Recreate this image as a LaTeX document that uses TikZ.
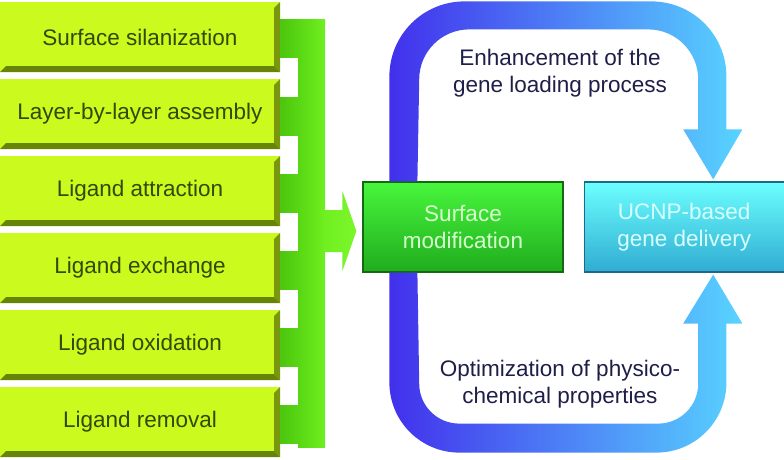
\documentclass[tikz,border=0pt]{standalone}
\usepackage{fontspec}
\setmainfont{Liberation Sans}
\usetikzlibrary{positioning,calc}

\definecolor{boxface}{RGB}{202,250,30}
\definecolor{boxtext}{RGB}{52,72,8}
\definecolor{bevelR}{RGB}{122,150,12}
\definecolor{bevelB}{RGB}{104,132,6}
\definecolor{busL}{RGB}{76,198,14}
\definecolor{busM}{RGB}{88,214,20}
\definecolor{busR}{RGB}{112,240,32}
\definecolor{loopL}{RGB}{66,48,236}
\definecolor{loopR}{RGB}{88,212,255}
\definecolor{notetext}{RGB}{30,30,72}

\tikzset{
  stepbox/.style={fill=boxface, minimum width=280pt, minimum height=70pt,
    inner sep=0pt, text=boxtext, font=\fontsize{22.5}{27}\selectfont},
  modbox/.style={top color={rgb,255:red,72;green,246;blue,60},
    bottom color={rgb,255:red,32;green,172;blue,30},
    draw={rgb,255:red,22;green,105;blue,20}, line width=1.2pt,
    minimum width=200pt, minimum height=90pt, inner sep=0pt, align=center,
    text={rgb,255:red,215;green,255;blue,205}, font=\fontsize{22.5}{27}\selectfont},
  genebox/.style={modbox, top color={rgb,255:red,108;green,255;blue,255},
    bottom color={rgb,255:red,48;green,172;blue,210},
    draw={rgb,255:red,30;green,105;blue,135},
    text={rgb,255:red,215;green,255;blue,255}},
  note/.style={align=center, text=notetext, font=\fontsize{22.5}{27}\selectfont},
  loop/.style={left color=loopL, right color=loopR},
}

\begin{document}
\begin{tikzpicture}[x=1pt,y=-1pt]
\useasboundingbox (0,0) rectangle (784,460);

% the six routes on the left
\foreach \nm/\txt [count=\i from 0] in {sil/Surface silanization,lbl/Layer-by-layer assembly,att/Ligand attraction,exc/Ligand exchange,oxi/Ligand oxidation,rem/Ligand removal}{
  \path (140,{37+77*\i}) node[stepbox] (\nm) {\txt};
  \fill[bevelR] (\nm.north east) -- (\nm.south east) -- ++(-6,-6) -- ($(\nm.north east)+(-6,6)$) -- cycle;
  \fill[bevelB] (\nm.south west) -- (\nm.south east) -- ++(-6,-6) -- ($(\nm.south west)+(6,-6)$) -- cycle;
  \shade[left color=busL,right color=busM] ($(\nm.east)+(0,-17)$) rectangle ++(18,38);
}
\shade[left color=busM,right color=busR] ($(sil.east)+(18,-17)$) rectangle ($(rem.east)+(45,25)$);

\path (463,227) node[modbox] (smod) {Surface\\modification};
\path node[genebox, right=20pt of smod] (ucnp) {UCNP-based\\gene delivery};

% feed arrow
\coordinate (tip) at ($(smod.west)+(-6,4)$);
\shade[left color=busR,right color={rgb,255:red,124;green,246;blue,44}] ($(tip)+(-32,-21)$) -- ++(18,0) -- ++(0,-19) -- (tip) -- ++(-14,40) -- ++(0,-19) -- ++(-18,0) -- cycle;

% upper loop
\shade[loop] ($(smod.north west)+(27,0)$) -- ++(0,-105) arc[start angle=180,end angle=270,radius=75]
  -- ++(187,0) arc[start angle=270,end angle=360,radius=75] -- ++(0,53) -- ++(16,0)
  -- ($(ucnp.north)+(29,-2)$) -- ++(-30,-50) -- ++(15,0) -- ++(0,-50)
  arc[start angle=0,end angle=-90,radius=50] -- ++(-179,0) arc[start angle=270,end angle=180,radius=50]
  -- ($(smod.north west)+(55,0)$) -- cycle;
%lower loop
\shade[loop] ($(smod.south west)+(27,0)$) -- ++(0,110) arc[start angle=180,end angle=90,radius=70]
  -- ++(197,0) arc[start angle=90,end angle=0,radius=70] -- ++(0,-59) -- ++(16,0)
  -- ($(ucnp.south)+(29,2)$) -- ++(-30,49) -- ++(15,0) -- ++(0,60)
  arc[start angle=0,end angle=90,radius=40] -- ++(-199,0) arc[start angle=90,end angle=180,radius=40]
  -- ($(smod.south west)+(55,0)$) -- cycle;

\path (560,73) node[note] (enh) {Enhancement of the\\gene loading process};
\path (560,384) node[note] (opt) {Optimization of physico-\\chemical properties};
\end{tikzpicture}
\end{document}
